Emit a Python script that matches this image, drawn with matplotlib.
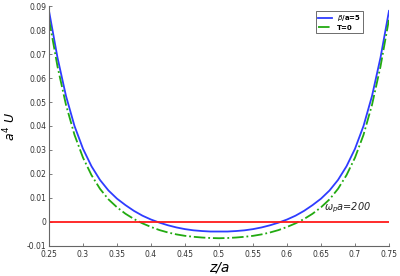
import matplotlib
matplotlib.use("Agg")
import matplotlib.pyplot as plt
from matplotlib.ticker import FormatStrFormatter

# valores (z/a, a^4 U)
z = [0.25, 0.2625, 0.275, 0.2875, 0.3, 0.3125, 0.325, 0.3375, 0.35, 0.3625,
     0.375, 0.3875, 0.4, 0.4125, 0.425, 0.4375, 0.45, 0.4625, 0.475, 0.4875,
     0.5, 0.5125, 0.525, 0.5375, 0.55, 0.5625, 0.575, 0.5875, 0.6, 0.6125,
     0.625, 0.6375, 0.65, 0.6625, 0.675, 0.6875, 0.7, 0.7125, 0.725, 0.7375, 0.75]

u_beta5 = [0.088, 0.0685, 0.0525, 0.040, 0.0305, 0.0232, 0.0175, 0.0131, 0.0097, 0.0070,
           0.0046, 0.0026, 0.0010, -0.0003, -0.0014, -0.0023, -0.0030, -0.0035, -0.0038, -0.0040,
           -0.0040, -0.0040, -0.0038, -0.0035, -0.0030, -0.0023, -0.0014, -0.0003, 0.0010, 0.0026,
           0.0046, 0.0070, 0.0097, 0.0131, 0.0175, 0.0232, 0.0305, 0.040, 0.0525, 0.0685, 0.088]

u_t0 = [0.0845, 0.0648, 0.0488, 0.0363, 0.0268, 0.0195, 0.0138, 0.0094, 0.0061, 0.0034,
        0.0012, -0.0006, -0.0021, -0.0034, -0.0044, -0.0052, -0.0058, -0.0062, -0.0065, -0.0067,
        -0.0068, -0.0067, -0.0065, -0.0062, -0.0058, -0.0052, -0.0044, -0.0034, -0.0021, -0.0006,
        0.0012, 0.0034, 0.0061, 0.0094, 0.0138, 0.0195, 0.0268, 0.0363, 0.0488, 0.0648, 0.0845]

x_ticks = [0.25, 0.3, 0.35, 0.4, 0.45, 0.5, 0.55, 0.6, 0.65, 0.7, 0.75]
y_ticks = [-0.01, 0, 0.01, 0.02, 0.03, 0.04, 0.05, 0.06, 0.07, 0.08, 0.09]

fig = plt.figure(figsize=(4, 2.76), dpi=100)
ax = fig.add_axes([0.1225, 0.109, 0.85, 0.869])

ax.plot(z, u_beta5, color='#2e3cff', lw=1.3, label=r'$\beta$/a=5')
ax.plot(z, u_t0, color='#22aa11', lw=1.3, ls='-.', label='T=0')
ax.plot([0.25, 0.75], [0, 0], color='#ff1a1a', lw=1.3)

ax.set_xlim(0.25, 0.75)
ax.set_ylim(-0.01, 0.09)
ax.set_xticks(x_ticks)
ax.set_yticks(y_ticks)
ax.xaxis.set_major_formatter(FormatStrFormatter('%g'))
ax.yaxis.set_major_formatter(FormatStrFormatter('%g'))

for lado in ['top', 'right']:
    ax.spines[lado].set_visible(False)
for lado in ['left', 'bottom']:
    ax.spines[lado].set_color('#666666')
    ax.spines[lado].set_linewidth(0.8)
ax.tick_params(direction='in', length=2.5, width=0.6, color='#666666',
               labelsize=5.5, labelcolor='#333333', pad=2)
ax.tick_params(axis='x', pad=3)

ax.set_xlabel('z/a', fontsize=10, style='italic', labelpad=1)
ax.set_ylabel(r'$a^4\ U$', fontsize=9, labelpad=6)

ax.text(0.654, 0.006, r'$\omega_p$a=200', fontsize=7, style='italic',
        va='center', ha='left', color='#222222')

leg = ax.legend(loc='upper right', bbox_to_anchor=(0.924, 0.979), fontsize=5,
                handlelength=1.9, borderpad=0.3, labelspacing=0.2, borderaxespad=0,
                fancybox=False, framealpha=1, edgecolor='#555555')
leg.get_frame().set_linewidth(0.6)
for t in leg.get_texts():
    t.set_fontweight('bold')

fig.savefig('out.png', dpi=100)
